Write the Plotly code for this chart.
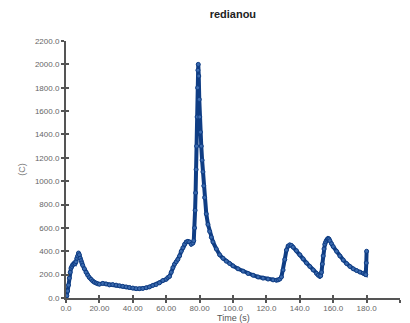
import plotly.graph_objects as go

time_s = [0, 0.5, 1, 1.5, 2, 2.5, 3, 3.5, 4, 4.5, 5, 5.5, 6, 6.5, 7, 7.5, 8, 8.5, 9, 9.5,
          10, 11, 12, 13, 14, 15, 16, 17, 18, 19, 20, 22, 24, 26, 28, 30, 32, 34, 36, 38,
          40, 42, 44, 46, 48, 50, 52, 54, 56, 58, 60, 61, 62, 63, 64, 65, 66, 67, 68, 69,
          70, 71, 72, 73, 74, 75, 76, 76.5, 77, 77.3, 77.6, 77.9, 78.2, 78.5, 78.8, 79.0,
          79.2, 79.5, 79.8, 80.1, 80.5, 81, 81.5, 82, 82.5, 83, 84, 85, 86, 87, 88, 90, 92,
          94, 96, 98, 100, 103, 106, 109, 112, 115, 118, 121, 124, 126, 127, 128, 129, 130,
          131, 132, 133, 134, 135, 136, 138, 140, 142, 144, 146, 148, 150, 151, 152, 152.5,
          153, 153.5, 154, 154.5, 155, 155.5, 156, 156.5, 157, 157.5, 158, 159, 160, 162,
          164, 166, 168, 170, 172, 174, 176, 178, 179, 179.5, 179.8, 180]

temp_c = [0, 20, 60, 110, 170, 220, 255, 270, 285, 290, 300, 295, 310, 340, 360, 385, 370, 340, 320, 300,
          280, 250, 220, 195, 175, 160, 145, 135, 128, 122, 118, 125, 120, 112, 115, 110, 105, 100, 95, 90,
          85, 80, 80, 82, 88, 95, 108, 115, 130, 150, 160, 175, 185, 220, 260, 290, 310, 330, 360, 400,
          430, 460, 480, 485, 480, 460, 470, 490, 600, 750, 900, 1100, 1300, 1550, 1800, 1950,
          2000, 1900, 1700, 1550, 1420, 1300, 1180, 1080, 960, 860, 720, 630, 570, 520, 480, 420, 370,
          340, 315, 295, 275, 250, 230, 210, 195, 180, 170, 162, 155, 152, 155, 162, 180, 240,
          330, 410, 445, 455, 450, 435, 405, 370, 335, 300, 270, 240, 210, 195, 185, 190,
          220, 290, 360, 420, 460, 480, 495, 505, 510, 505, 490, 465, 440, 400,
          360, 325, 295, 270, 250, 235, 222, 212, 205, 200, 300, 400]

x_ticks = [0, 20, 40, 60, 80, 100, 120, 140, 160, 180, 200]
x_tick_labels = ["0.0", "20.00", "40.00", "60.00", "80.00", "100.0", "120.0", "140.0", "160.0", "180.0", "200.0"]
y_ticks = list(range(0, 2201, 200))
y_tick_labels = [f"{v:.1f}" for v in y_ticks]

line_color = "#0f3d84"
font_family = "Liberation Sans, Arial, sans-serif"

fig = go.Figure()
fig.add_trace(go.Scatter(
    x=time_s, y=temp_c, mode="lines+markers",
    line=dict(color=line_color, width=4),
    marker=dict(symbol="circle", size=4, color="#3b6aae", line=dict(color=line_color, width=1)),
    showlegend=False, cliponaxis=False,
))
fig.add_trace(go.Scatter(x=[None], y=[None], xaxis="x2", yaxis="y2", showlegend=False))

tick_font = dict(family=font_family, size=8, color="#666666")
axis_common = dict(showgrid=False, zeroline=False, showline=True, linecolor="#555555", linewidth=2,
                   ticks="outside", ticklen=3, tickwidth=2, tickcolor="#555555", tickfont=tick_font,
                   automargin=False)

fig.update_layout(
    width=410, height=323,
    margin=dict(l=66, r=10, t=41, b=25),
    paper_bgcolor="white", plot_bgcolor="white",
    title=dict(text="<b>redianou</b>", x=0.568, xanchor="center", y=0.955, yanchor="middle",
               font=dict(family=font_family, size=11, color="#222222")),
    xaxis=dict(range=[0, 200], tickvals=x_ticks, ticktext=x_tick_labels, ticklabelstandoff=-2,
               **axis_common),
    yaxis=dict(range=[0, 2200], tickvals=y_ticks, ticktext=y_tick_labels,
               title=dict(text="(C)", standoff=8,
                          font=dict(family=font_family, size=9, color="#777777")),
               **axis_common),
    xaxis2=dict(overlaying="x", matches="x", range=[0, 200], tickvals=x_ticks, showticklabels=False,
                ticks="inside", ticklen=3, tickwidth=2, tickcolor="#555555", showgrid=False,
                zeroline=False, showline=False, anchor="y"),
    yaxis2=dict(overlaying="y", matches="y", range=[0, 2200], tickvals=y_ticks, showticklabels=False,
                ticks="inside", ticklen=3, tickwidth=2, tickcolor="#555555", showgrid=False,
                zeroline=False, showline=False, anchor="x"),
    annotations=[dict(text="Time (s)", xref="paper", yref="paper", x=0.5, y=-0.078,
                      xanchor="center", yanchor="middle", showarrow=False,
                      font=dict(family=font_family, size=9, color="#555555"))],
)

fig.write_html("out.html")
